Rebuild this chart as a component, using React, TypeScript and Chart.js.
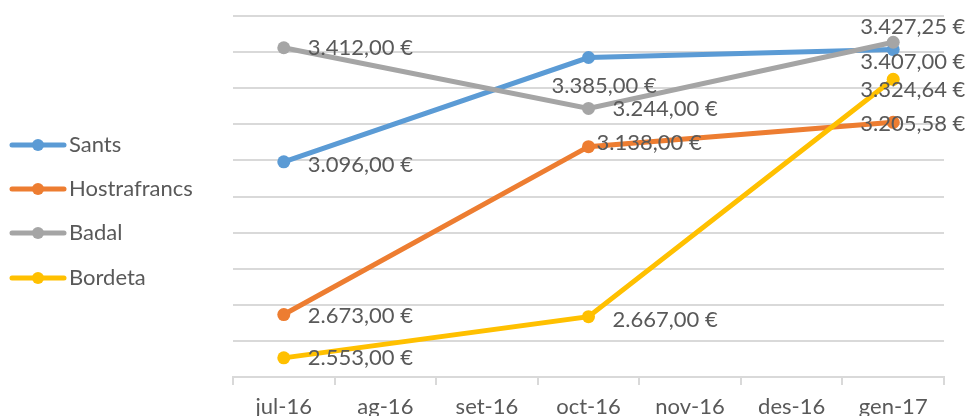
import React, { useEffect, useRef } from 'react';
import { Chart, registerables } from 'chart.js';
Chart.register(...registerables);

const categories = ['jul-16', 'ag-16', 'set-16', 'oct-16', 'nov-16', 'des-16', 'gen-17'];
const seriesNames = ['Sants', 'Hostrafrancs', 'Badal', 'Bordeta'];
const sants = [3096, null, null, 3385, null, null, 3407];
const hostrafrancs = [2673, null, null, 3138, null, null, 3205.58];
const badal = [3412, null, null, 3244, null, null, 3427.25];
const bordeta = [2553, null, null, 2667, null, null, 3324.64];
const colors = ['#5B9BD5', '#ED7D31', '#A5A5A5', '#FFC000'];
const yMin = 2500;
const yMax = 3500;
const yStep = 100;

// label placement offsets (dx from point to text start, dy from point to text middle)
const labelOffsets: Record<number, [number, number]>[] = [
  { 0: [24, 3], 3: [-37, 28], 6: [-33, 12] },
  { 0: [24, 1], 3: [8, -4], 6: [-33, 2] },
  { 0: [24, 0], 3: [24, 0], 6: [-33, -15] },
  { 0: [24, 0], 3: [24, 3], 6: [-33, 11] },
];

const FONT = 'Lato, "Open Sans", sans-serif';

function fmt(v: number): string {
  const [i, d] = v.toFixed(2).split('.');
  const g = i.replace(/\B(?=(\d{3})+(?!\d))/g, '.');
  return g + ',' + d + ' €';
}

const labelPlugin = {
  id: 'valueLabels',
  afterDatasetsDraw(chart: any) {
    const ctx = chart.ctx;
    ctx.save();
    ctx.font = `22px ${FONT}`;
    ctx.fillStyle = '#595959';
    ctx.textBaseline = 'middle';
    ctx.textAlign = 'left';
    chart.data.datasets.forEach((ds: any, di: number) => {
      const meta = chart.getDatasetMeta(di);
      ds.data.forEach((v: number | null, i: number) => {
        if (v == null) return;
        const el = meta.data[i];
        const off = labelOffsets[di][i] || [20, 0];
        ctx.fillText(fmt(v), el.x + off[0], el.y + off[1]);
      });
    });
    ctx.restore();
  },
};

const legendPlugin = {
  id: 'sideLegend',
  afterDraw(chart: any) {
    const ctx = chart.ctx;
    ctx.save();
    const ys = [145, 189, 233, 278];
    seriesNames.forEach((name, i) => {
      const y = ys[i];
      ctx.strokeStyle = colors[i];
      ctx.lineWidth = 5;
      ctx.lineCap = 'round';
      ctx.beginPath();
      ctx.moveTo(12, y);
      ctx.lineTo(64, y);
      ctx.stroke();
      ctx.fillStyle = colors[i];
      ctx.beginPath();
      ctx.arc(38, y, 6, 0, Math.PI * 2);
      ctx.fill();
      ctx.fillStyle = '#595959';
      ctx.font = `22px ${FONT}`;
      ctx.textBaseline = 'middle';
      ctx.textAlign = 'left';
      ctx.fillText(name, 69, y);
    });
    ctx.restore();
  },
};

export default function App() {
  const ref = useRef<HTMLCanvasElement>(null);
  useEffect(() => {
    document.body.style.margin = '0';
    const series = [sants, hostrafrancs, badal, bordeta];
    const chart = new Chart(ref.current!, {
      type: 'line',
      data: {
        labels: categories,
        datasets: series.map((d, i) => ({
          label: seriesNames[i],
          data: d,
          borderColor: colors[i],
          backgroundColor: colors[i],
          borderWidth: 5,
          pointRadius: 6.5,
          pointBorderWidth: 0,
          pointBackgroundColor: colors[i],
          tension: 0,
          spanGaps: true,
          order: 3 - i,
        })),
      },
      options: {
        responsive: false,
        animation: false,
        layout: { padding: { left: 233, right: 25, top: 16, bottom: 0 } },
        plugins: { legend: { display: false }, tooltip: { enabled: false } },
        scales: {
          x: {
            offset: true,
            grid: {
              display: true,
              drawOnChartArea: false,
              drawTicks: true,
              tickLength: 8,
              color: '#D9D9D9',
              lineWidth: 2,
              offset: true,
            },
            border: { display: true, color: '#D9D9D9', width: 2 },
            ticks: { color: '#595959', font: { family: FONT, size: 22 }, padding: 9, maxRotation: 0, autoSkip: false },
            afterFit: (s: any) => { s.height = 39; },
          },
          y: {
            min: yMin,
            max: yMax,
            ticks: { display: false, stepSize: yStep },
            grid: { color: '#D9D9D9', lineWidth: 2, drawTicks: false },
            border: { display: false },
            afterFit: (s: any) => { s.width = 0; },
          },
        },
      },
      plugins: [labelPlugin, legendPlugin],
    });
    return () => chart.destroy();
  }, []);
  return (
    <div style={{ width: 969, height: 416 }}>
      <canvas ref={ref} width={969} height={416} />
    </div>
  );
}
